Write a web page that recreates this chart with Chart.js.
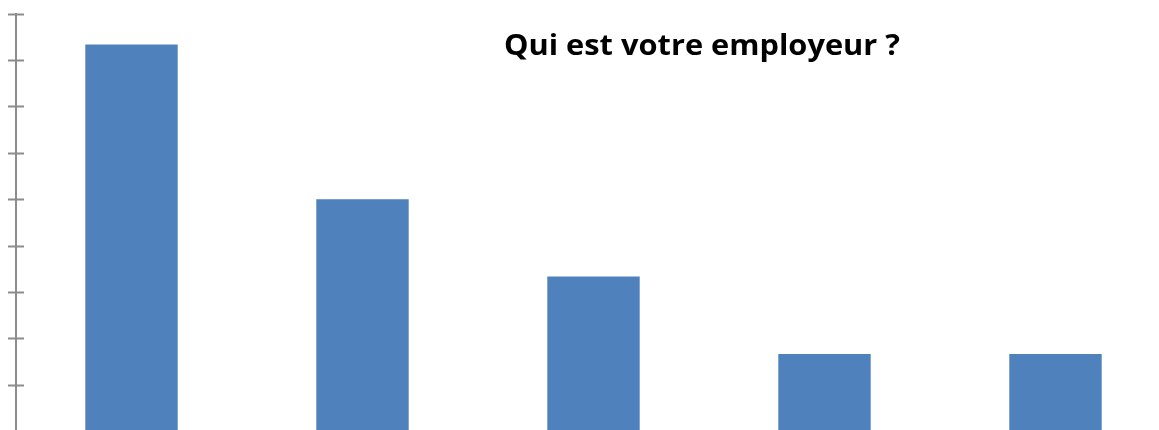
<!DOCTYPE html>
<html lang="fr">
<head>
<meta charset="utf-8">
<title>Qui est votre employeur ?</title>
<script src="https://cdn.jsdelivr.net/npm/chart.js@4/dist/chart.umd.min.js"></script>
<style>
  html, body { margin: 0; padding: 0; overflow: hidden; background: #ffffff; }
  #wrap { position: relative; width: 1200px; height: 440px; }
</style>
</head>
<body>
<div id="wrap"><canvas id="chart" width="1200" height="440"></canvas></div>
<script>
// Employer categories (axis labels sit below the visible frame)
const categories = ["Catégorie 1", "Catégorie 2", "Catégorie 3", "Catégorie 4", "Catégorie 5"];
// Share of respondents, in percent
const shares = [41.67, 25, 16.67, 8.33, 8.33];
// Value axis: 0 to 45 % in steps of 5
const yMin = 0;
const yMax = 45;
const yStep = 5;

const titleText = "Qui est votre employeur ?";

// Tick marks that cross the value axis line on both sides
const crossTicks = {
  id: "crossTicks",
  afterDraw(chart) {
    const y = chart.scales.y;
    const ctx = chart.ctx;
    const x0 = chart.chartArea.left;
    ctx.save();
    ctx.strokeStyle = "#8c8c8c";
    ctx.lineWidth = 2;
    ctx.beginPath();
    y.ticks.forEach((t, i) => {
      const py = Math.round(y.getPixelForTick(i)) + 0.5;
      ctx.moveTo(x0 - 8, py);
      ctx.lineTo(x0 + 8, py);
    });
    ctx.stroke();
    ctx.restore();
  }
};

// Title drawn over the plot area, stretched horizontally to span 396 px
const overlayTitle = {
  id: "overlayTitle",
  afterDraw(chart) {
    const ctx = chart.ctx;
    const cx = 702, baseY = 55, span = 396;
    ctx.save();
    ctx.fillStyle = "#000000";
    ctx.font = "bold 29px 'Open Sans'";
    ctx.textAlign = "center";
    ctx.textBaseline = "alphabetic";
    const sx = span / ctx.measureText(titleText).width;
    ctx.translate(cx, baseY);
    ctx.scale(sx, 1);
    ctx.fillText(titleText, 0, 0);
    ctx.restore();
  }
};

new Chart(document.getElementById("chart"), {
  type: "bar",
  data: {
    labels: categories,
    datasets: [{
      data: shares,
      backgroundColor: "#4f81bd",
      borderWidth: 0,
      barPercentage: 0.4,
      categoryPercentage: 1
    }]
  },
  options: {
    responsive: false,
    animation: false,
    events: [],
    layout: { padding: { left: 8, top: 13.5, right: 29, bottom: 8.7 } },
    plugins: { legend: { display: false }, tooltip: { enabled: false }, title: { display: false } },
    scales: {
      x: { display: false },
      y: {
        min: yMin,
        max: yMax,
        ticks: { display: false, stepSize: yStep },
        grid: { display: false },
        border: { display: true, color: "#8c8c8c", width: 2 }
      }
    }
  },
  plugins: [crossTicks, overlayTitle]
});
</script>
</body>
</html>
